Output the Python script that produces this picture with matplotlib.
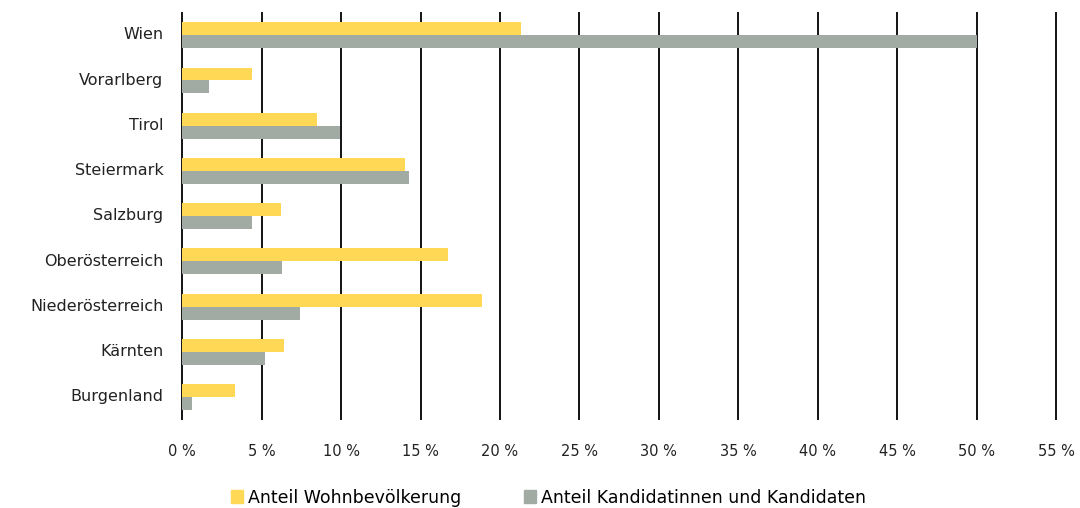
import matplotlib.pyplot as plt
import numpy as np
from matplotlib.patches import Patch

states = ['Burgenland', 'Kärnten', 'Niederösterreich', 'Oberösterreich',
          'Salzburg', 'Steiermark', 'Tirol', 'Vorarlberg', 'Wien']
population = [3.3, 6.4, 18.9, 16.7, 6.2, 14.0, 8.5, 4.4, 21.3]
candidates = [0.6, 5.2, 7.4, 6.3, 4.4, 14.3, 9.9, 1.7, 50.0]
ticks = list(range(0, 56, 5))

yellow = '#ffd955'
gray = '#a2aaa4'

plt.rcParams['font.family'] = ['DejaVu Sans']

fig = plt.figure(figsize=(10.8, 5.08), dpi=100)
ax = fig.add_axes([0.1680, 0.173, 0.8105, 0.803])

y = np.arange(len(states))
h = 0.287
ax.barh(y + h / 2, population, height=h, color=yellow, zorder=2)
ax.barh(y - h / 2, candidates, height=h, color=gray, zorder=2)

ax.set_xlim(-0.05, 55.05)
ax.set_ylim(-0.51, 8.51)
ax.set_xticks(ticks)
ax.set_xticklabels(['{} %'.format(t) for t in ticks], fontsize=10.5,
                   color='#222222')
ax.set_yticks(y + 0.04)
ax.set_yticklabels(states, fontsize=11.5, color='#222222')
ax.tick_params(axis='y', length=0, pad=13)
ax.tick_params(axis='x', length=0, pad=17)
ax.grid(axis='x', color='black', linewidth=1.3, zorder=1)
for s in ax.spines.values():
    s.set_visible(False)

handles = [Patch(color=yellow), Patch(color=gray)]
fig.legend(handles, ['Anteil Wohnbevölkerung',
                     'Anteil Kandidatinnen und Kandidaten'],
           loc='lower center', bbox_to_anchor=(0.508, -0.028), ncol=2,
           frameon=False, fontsize=12.5, handlelength=0.7, handleheight=0.7,
           handletextpad=0.3, columnspacing=3.6)

fig.savefig('out.png', dpi=100)
